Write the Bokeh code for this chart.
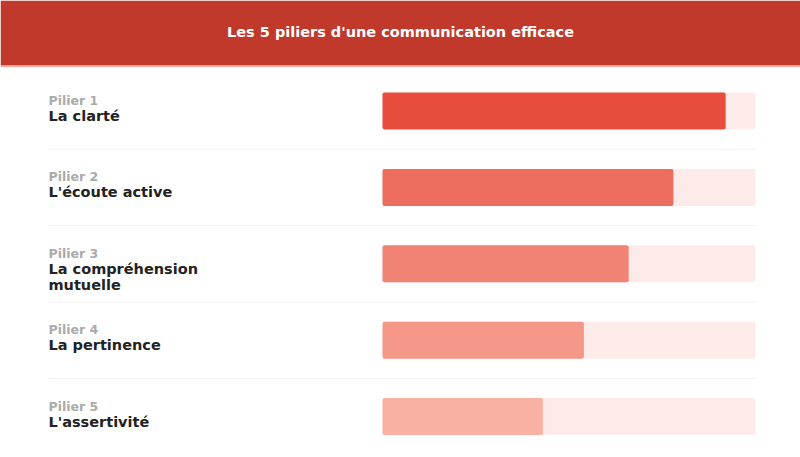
from bokeh.plotting import figure
from bokeh.models import Range1d
from bokeh.core.properties import value
from bokeh.embed import file_html
from bokeh.resources import INLINE

# ---- data ----
title = "Les 5 piliers d'une communication efficace"
pillar_tags = ["Pilier 1", "Pilier 2", "Pilier 3", "Pilier 4", "Pilier 5"]
pillar_names = ["La clarté", "L'écoute active", "La compréhension\nmutuelle", "La pertinence", "L'assertivité"]
scores = [92, 78, 66, 54, 43]
score_max = 100
bar_colors = ["#e74c3c", "#ed6d5e", "#f08373", "#f59887", "#f8b1a2"]
track_color = "#fdebe9"

# ---- layout helpers (pixel geometry of the canvas) ----
W, H = 800, 457
BAR_X0, BAR_X1 = 382, 755            # pixel span of value 0..score_max
ROW0, ROW_H = 110.5, 76.4            # pixel centre of first row, row pitch
ux = (BAR_X1 - BAR_X0) / score_max   # pixels per value unit

def px_x(px):
    return (px - BAR_X0) / ux

def px_y(py):
    return (py - ROW0) / ROW_H

rows = list(range(len(scores)))

p = figure(width=W, height=H, output_backend="svg", toolbar_location=None,
           x_range=Range1d(px_x(0), px_x(W)), y_range=Range1d(px_y(H), px_y(0)),
           min_border=0, outline_line_color=None, background_fill_color="white",
           border_fill_color="white")
p.axis.visible = False
p.grid.visible = False

# header band
p.quad(left=px_x(0), right=px_x(W), top=px_y(0), bottom=px_y(65),
       fill_color="#c0392b", line_color=None)
p.segment(x0=[px_x(0)], x1=[px_x(W)], y0=[px_y(66)], y1=[px_y(66)],
          line_color="#eab0a9", line_width=1.5)
p.text(x=[px_x(W / 2)], y=[px_y(31)], text=[title], text_color="white",
       text_font=value("DejaVu Sans"), text_font_style="bold", text_font_size="14.5px",
       text_align="center", text_baseline="middle")

# row separators
sep_y = [r + 0.5 for r in rows[:-1]]
p.segment(x0=[px_x(48)] * len(sep_y), x1=[score_max] * len(sep_y), y0=sep_y, y1=sep_y,
          line_color="#f1f1f1", line_width=1)

# tracks and bars
p.hbar(y=rows, left=0, right=[score_max] * len(rows), height=37 / ROW_H,
       fill_color=track_color, line_color=None, border_radius=2)
p.hbar(y=rows, left=0, right=scores, height=37 / ROW_H,
       fill_color=bar_colors, line_color=None, border_radius=2)

# labels
p.text(x=[px_x(48)] * len(rows), y=rows, text=pillar_tags, y_offset=-10.5,
       text_color="#aaaaaa", text_font=value("DejaVu Sans"), text_font_style="bold",
       text_font_size="12.5px", text_align="left", text_baseline="alphabetic")
p.text(x=[px_x(48)] * len(rows), y=rows, text=pillar_names, y_offset=-3,
       text_color="#222222", text_font=value("DejaVu Sans"), text_font_style="bold",
       text_font_size="14.5px", text_align="left", text_baseline="top",
       text_line_height=1.0)

open("out.html", "w").write(file_html(p, INLINE))
